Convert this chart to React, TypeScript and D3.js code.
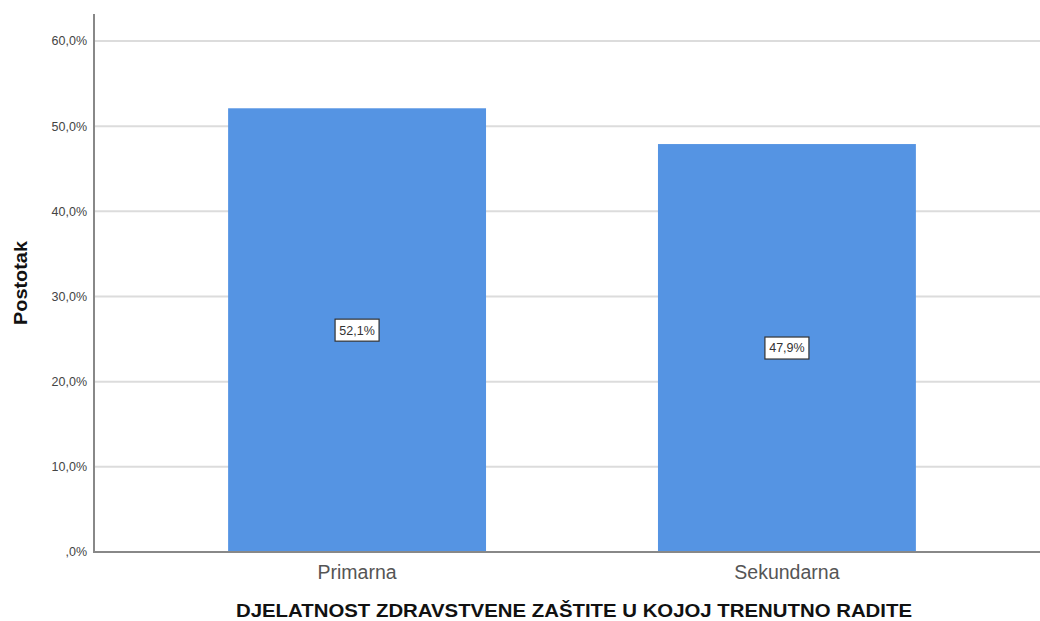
import * as d3 from 'd3';
import React from 'react';

const categories = ['Primarna', 'Sekundarna'];
const percentages = [52.1, 47.9];
const yTicks = [0, 10, 20, 30, 40, 50, 60];

const width = 1040;
const height = 621;
const margin = { left: 94, top: 14, bottom: 552 };

const fmt = (v: number) => (v === 0 ? ',0%' : v.toFixed(1).replace('.', ',') + '%');

export default function App() {
  const x = d3.scaleBand<string>().domain(categories).range([94, 1050]).paddingInner(0.4).paddingOuter(0.312);
  const y = d3.scaleLinear().domain([0, 60]).range([margin.bottom, 41]);

  const bars = categories.map((c, i) => ({ c, v: percentages[i] }));

  return (
    <div style={{ position: 'absolute', left: 0, top: 0 }}>
      <svg width={width} height={height} style={{ fontFamily: 'Liberation Sans, Arial, sans-serif', display: 'block' }}>
        <rect width={width} height={height} fill="#fff" />
        {yTicks.map(t => (
          <g key={t}>
            {t > 0 && <line x1={margin.left} x2={width} y1={y(t)} y2={y(t)} stroke="#dcdcdc" strokeWidth={2} />}
            <text x={87} y={y(t)} dy="0.35em" textAnchor="end" fontSize={12.5} fill="#444">{fmt(t)}</text>
          </g>
        ))}
        {bars.map(b => {
          const bx = x(b.c)!;
          const bw = x.bandwidth();
          const cy = (y(b.v) + y(0)) / 2;
          const label = fmt(b.v);
          return (
            <g key={b.c}>
              <rect x={bx} y={y(b.v)} width={bw} height={y(0) - y(b.v)} fill="#5594e3" />
              <rect x={bx + bw / 2 - 22} y={cy - 11} width={44} height={22} fill="#fff" stroke="#333" strokeWidth={1.2} />
              <text x={bx + bw / 2} y={cy} dy="0.35em" textAnchor="middle" fontSize={12.5} fill="#333">{label}</text>
              <text x={bx + bw / 2} y={579} textAnchor="middle" fontSize={19.5} fill="#555">{b.c}</text>
            </g>
          );
        })}
        <line x1={margin.left} x2={margin.left} y1={margin.top} y2={margin.bottom} stroke="#888" strokeWidth={2} />
        <line x1={margin.left - 1} x2={width} y1={margin.bottom} y2={margin.bottom} stroke="#888" strokeWidth={2} />
        <text x={574} y={617} textAnchor="middle" fontSize={18} fontWeight="bold" fill="#111"
          textLength={676} lengthAdjust="spacingAndGlyphs">
          DJELATNOST ZDRAVSTVENE ZAŠTITE U KOJOJ TRENUTNO RADITE
        </text>
        <text transform="translate(27,283) rotate(-90)" textAnchor="middle" fontSize={18} fontWeight="bold" fill="#111"
          textLength={84} lengthAdjust="spacingAndGlyphs">
          Postotak
        </text>
      </svg>
    </div>
  );
}
